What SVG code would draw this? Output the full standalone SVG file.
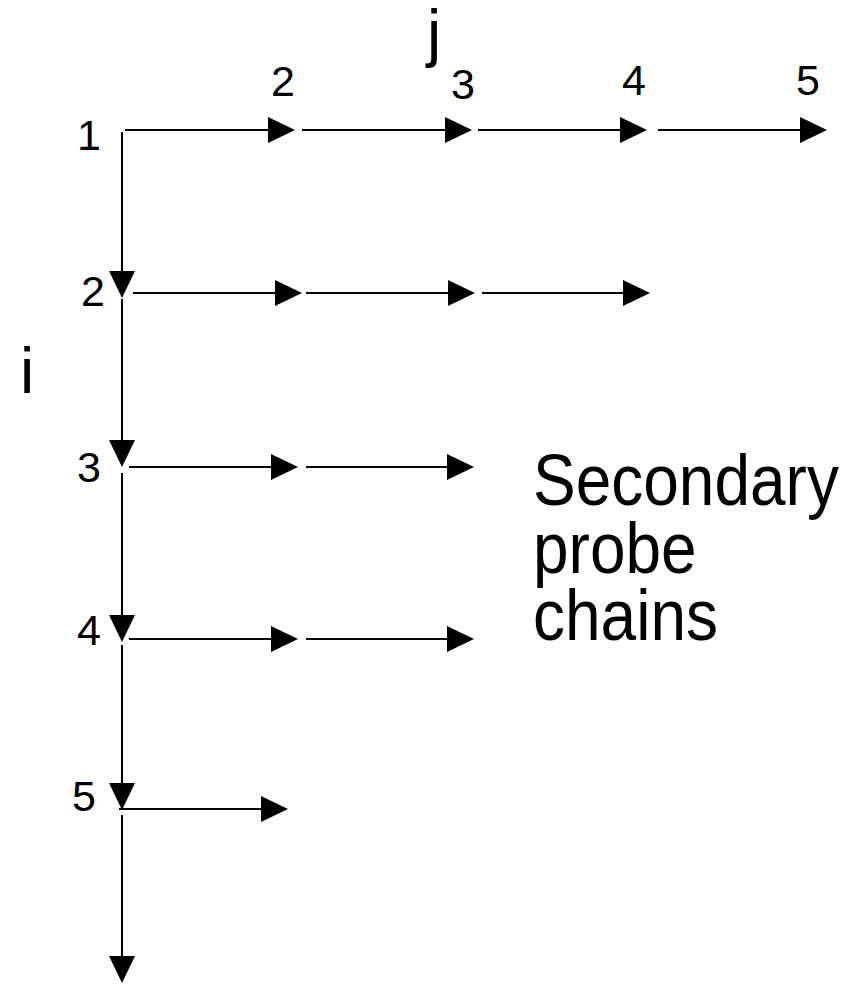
<svg xmlns="http://www.w3.org/2000/svg" width="855" height="984" viewBox="0 0 855 984">
<style>
.t{font-family:"Liberation Sans",Arial,sans-serif;fill:#000}
.n{font-size:43px}
.big{font-size:64px}
.c line{stroke:#000;stroke-width:2;fill:none;marker-end:url(#ah)}
</style>
<defs>
<marker id="ah" markerUnits="userSpaceOnUse" markerWidth="27" markerHeight="27" refX="22" refY="13" orient="auto" viewBox="0 0 27 27">
<path d="M0,0 L27,13 L0,26 Z" fill="#000"/>
</marker>
</defs>
<rect width="855" height="984" fill="#fff"/>
<g class="c" id="connectors">
<line x1="125" y1="130" x2="290" y2="130"/>
<line x1="302" y1="130" x2="467" y2="130"/>
<line x1="478" y1="130" x2="642" y2="130"/>
<line x1="658" y1="130" x2="822" y2="130"/>
<line x1="122" y1="132" x2="122" y2="293"/>
<line x1="133" y1="293" x2="297" y2="293"/>
<line x1="306" y1="293" x2="470" y2="293"/>
<line x1="482" y1="293" x2="645" y2="293"/>
<line x1="122" y1="299" x2="122" y2="462"/>
<line x1="129" y1="467" x2="293" y2="467"/>
<line x1="306" y1="467" x2="469" y2="467"/>
<line x1="122" y1="473" x2="122" y2="637"/>
<line x1="129" y1="639" x2="293" y2="639"/>
<line x1="306" y1="639" x2="469" y2="639"/>
<line x1="122" y1="645" x2="122" y2="805"/>
<line x1="119" y1="809" x2="283" y2="809"/>
<line x1="122" y1="815" x2="122" y2="978"/>
</g>
<g id="row-labels">
<g id="i1"><text class="t n" x="77" y="150">1</text></g>
<g id="i2"><text class="t n" x="81" y="306">2</text></g>
<g id="i3"><text class="t n" x="77" y="482">3</text></g>
<g id="i4"><text class="t n" x="77" y="645">4</text></g>
<g id="i5"><text class="t n" x="72" y="811">5</text></g>
</g>
<g id="col-labels">
<g id="j2"><text class="t n" x="271" y="96">2</text></g>
<g id="j3"><text class="t n" x="451" y="99">3</text></g>
<g id="j4"><text class="t n" x="622" y="95">4</text></g>
<g id="j5"><text class="t n" x="796" y="95">5</text></g>
</g>
<g id="axis-i"><text class="t big" x="20" y="393">i</text></g>
<g id="axis-j"><text class="t big" x="427" y="55">j</text></g>
<g id="note">
<text class="t big" transform="translate(533,505) scale(1,1.12)">Secondary</text>
<text class="t big" transform="translate(533,573) scale(1,1.12)">probe</text>
<text class="t big" transform="translate(533,640) scale(1,1.12)">chains</text>
</g>
</svg>
